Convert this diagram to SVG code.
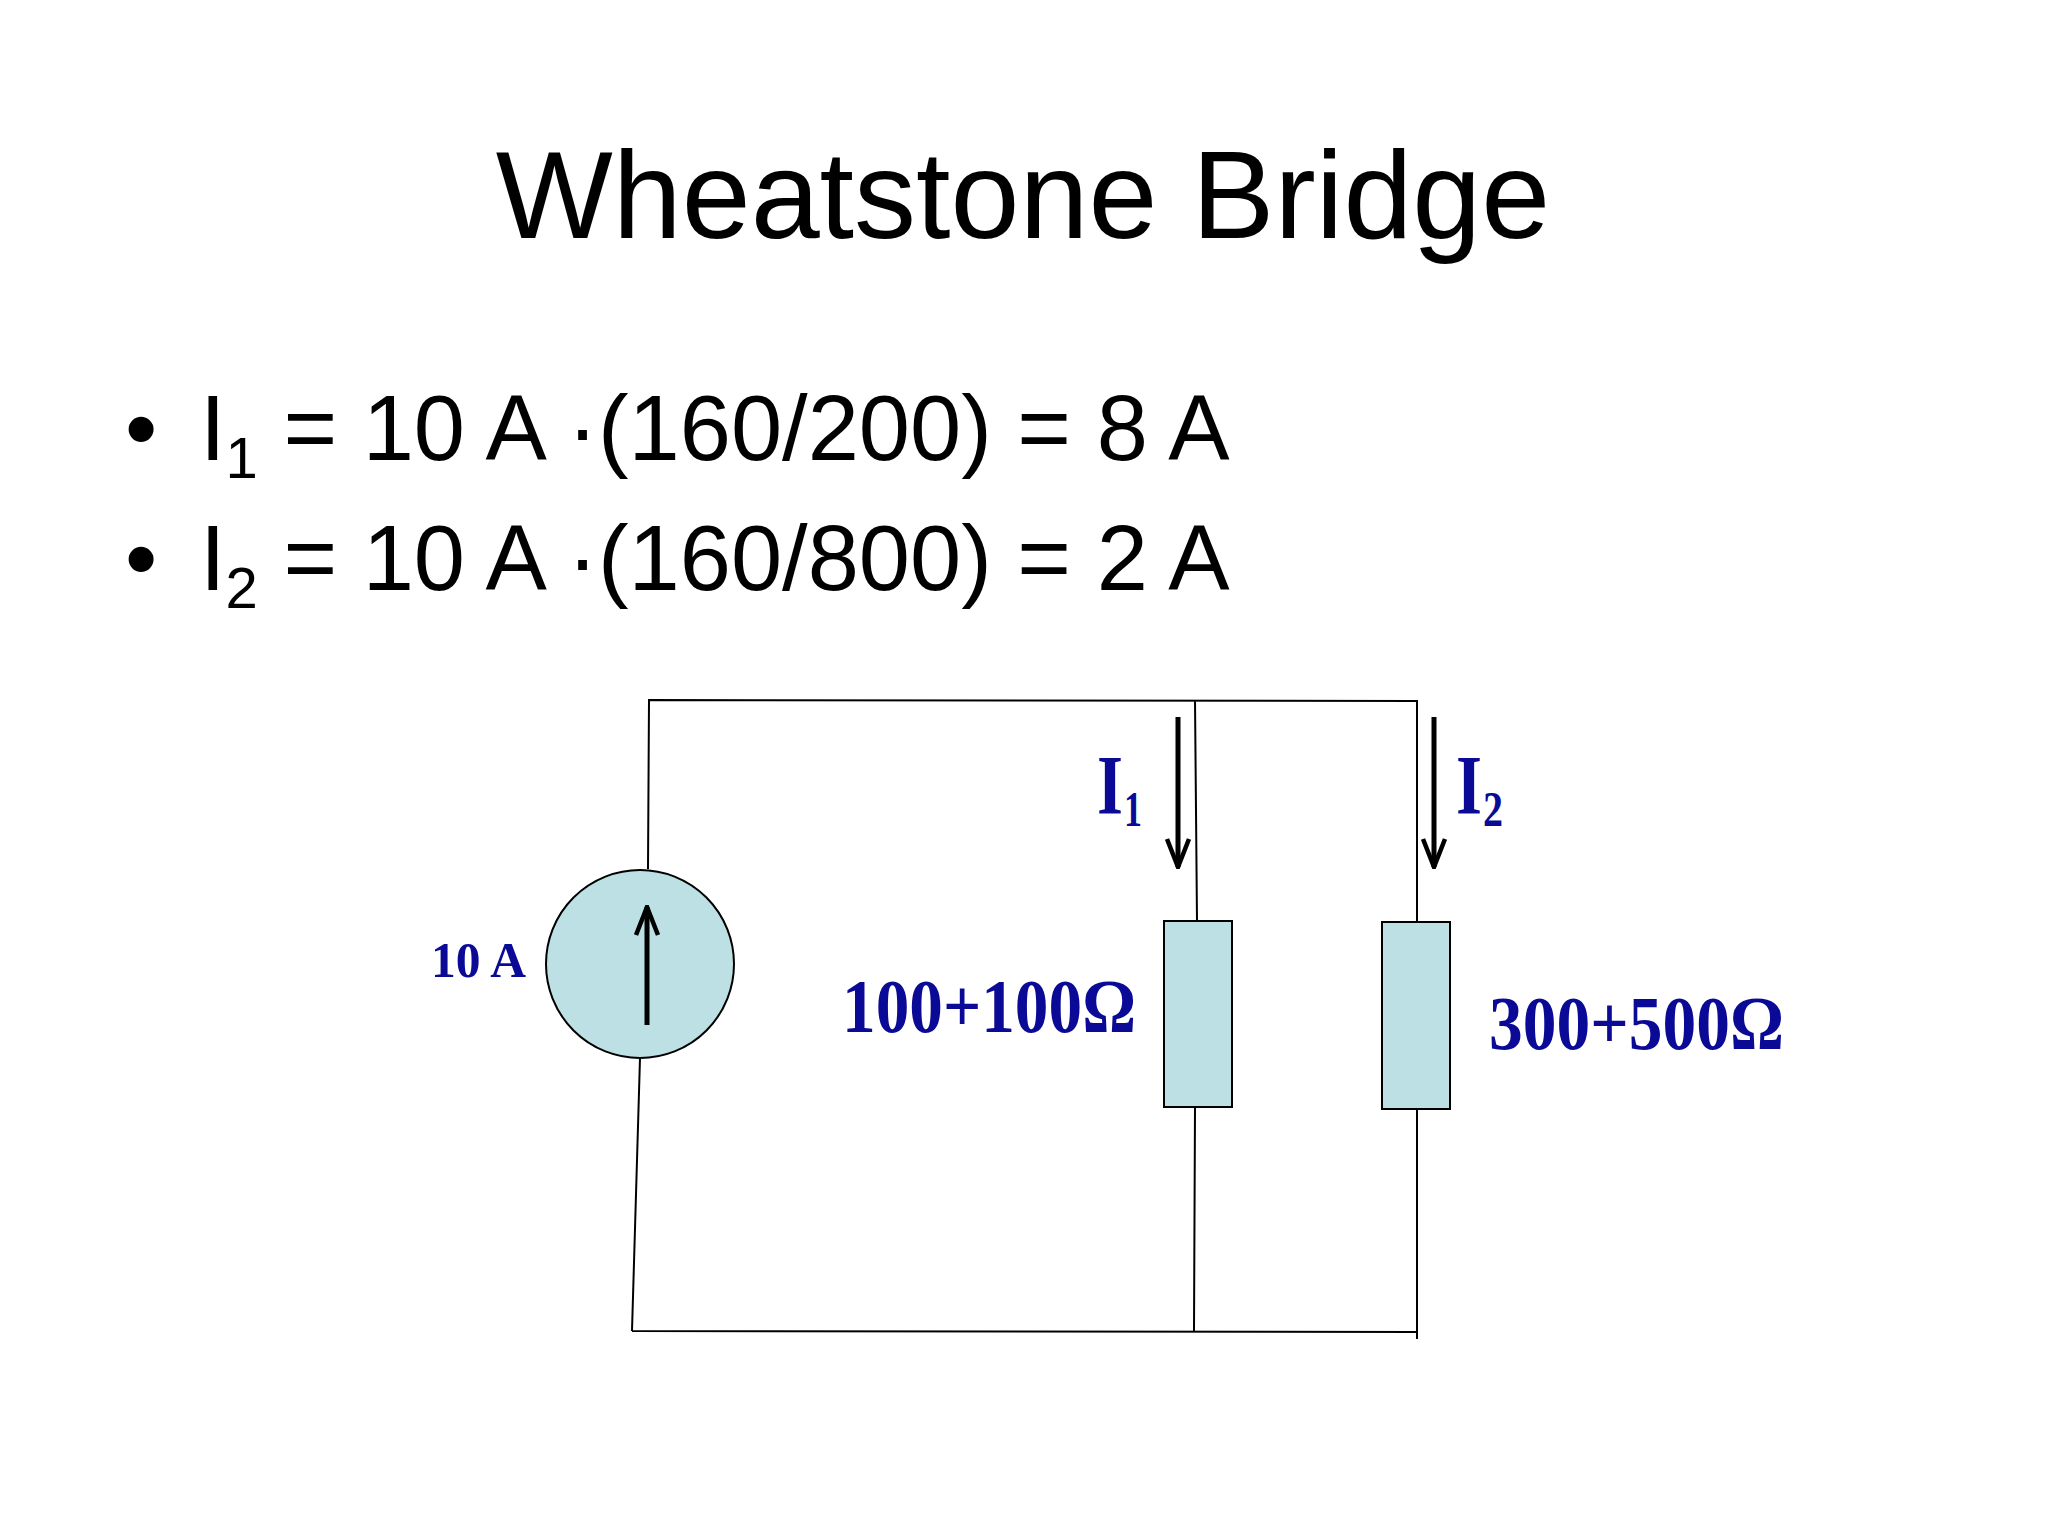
<svg xmlns="http://www.w3.org/2000/svg" width="2048" height="1536" viewBox="0 0 2048 1536">
<style>
.t{font-family:"Liberation Sans",Arial,sans-serif;fill:#000}
.l{font-family:"Liberation Serif","Times New Roman",serif;font-weight:bold;fill:#0a0a96}
.w{stroke:#000;stroke-width:2;fill:none}
.a{stroke:#000;stroke-width:5;fill:none}
.c{fill:#bce0e4;stroke:#000;stroke-width:2}
</style>
<defs>
<marker id="ah" viewBox="0 0 32 30" refX="30" refY="15" markerWidth="32" markerHeight="30" markerUnits="userSpaceOnUse" orient="auto"><path d="M2,4 L30,15 L2,26" fill="none" stroke="#000" stroke-width="4.5"/></marker>
</defs>
<rect width="2048" height="1536" fill="#fff"/>
<text class="t" x="1023" y="238" font-size="124" text-anchor="middle">Wheatstone Bridge</text>
<g id="bullets" class="t" font-size="92">
<text x="125" y="460">•</text>
<text x="200" y="460">I<tspan font-size="58" dy="18">1</tspan><tspan dy="-18"> = 10 A ·(160/200) = 8 A</tspan></text>
<text x="125" y="590">•</text>
<text x="200" y="590">I<tspan font-size="58" dy="18">2</tspan><tspan dy="-18"> = 10 A ·(160/800) = 2 A</tspan></text>
</g>
<g id="wires">
<path class="w" d="M632,1331 L640,1058 M648,869 L649,700 L1417,701 L1417,1339 M1195,700 L1197,921 M1195,1107 L1194,1331 M632,1331 L1417,1332"/>
</g>
<g id="source">
<circle class="c" cx="640" cy="964" r="94"/>
<line class="a" x1="647" y1="1025" x2="647" y2="907" marker-end="url(#ah)"/>
<text class="l" x="431" y="977" font-size="50" textLength="95" lengthAdjust="spacingAndGlyphs">10 A</text>
</g>
<g id="r1">
<rect class="c" x="1164" y="921" width="68" height="186"/>
<text class="l" x="842" y="1032" font-size="76" textLength="294" lengthAdjust="spacingAndGlyphs">100+100Ω</text>
</g>
<g id="r2">
<rect class="c" x="1382" y="922" width="68" height="187"/>
<text class="l" x="1489" y="1049" font-size="76" textLength="295" lengthAdjust="spacingAndGlyphs">300+500Ω</text>
</g>
<g id="currents">
<line class="a" x1="1178" y1="717" x2="1178" y2="867" marker-end="url(#ah)"/>
<line class="a" x1="1434" y1="717" x2="1434" y2="867" marker-end="url(#ah)"/>
<text class="l" x="1097" y="814" font-size="84" textLength="26" lengthAdjust="spacingAndGlyphs">I</text>
<text class="l" x="1124" y="826" font-size="50" textLength="18" lengthAdjust="spacingAndGlyphs">1</text>
<text class="l" x="1456" y="814" font-size="84" textLength="26" lengthAdjust="spacingAndGlyphs">I</text>
<text class="l" x="1483" y="826" font-size="50" textLength="20" lengthAdjust="spacingAndGlyphs">2</text>
</g>
</svg>
